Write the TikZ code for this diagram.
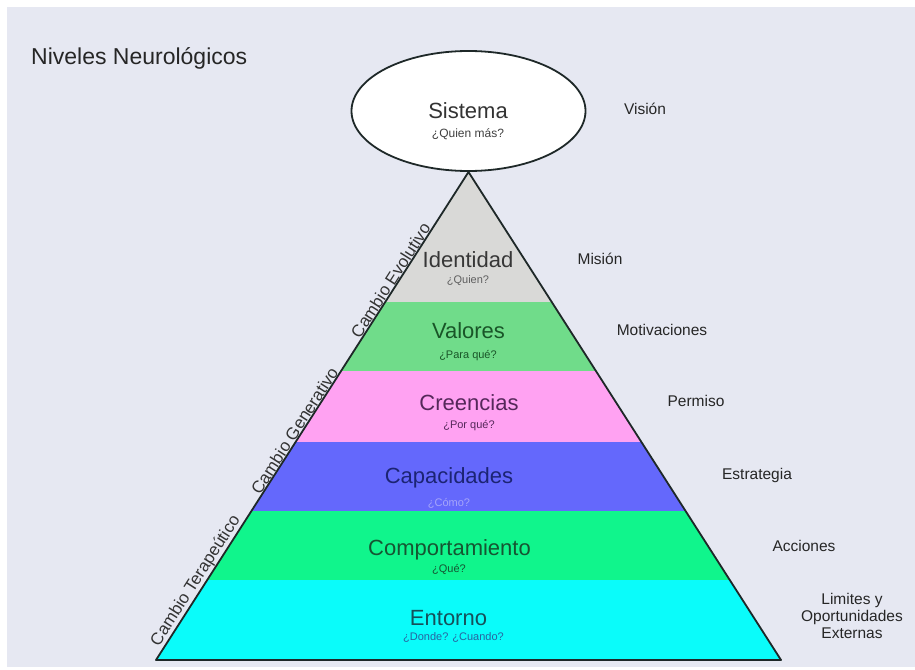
\documentclass[tikz,border=0pt]{standalone}
\usepackage{fontspec}
\setmainfont{Liberation Sans}
\usetikzlibrary{shapes.geometric}
\definecolor{bgc}{RGB}{230,232,242}
\definecolor{cIdent}{RGB}{217,217,215}
\definecolor{cVal}{RGB}{112,220,138}
\definecolor{cCre}{RGB}{255,162,242}
\definecolor{cCap}{RGB}{100,104,252}
\definecolor{cCom}{RGB}{16,245,140}
\definecolor{cEnt}{RGB}{10,252,250}
\definecolor{tIdent}{RGB}{55,55,55}
\definecolor{tVal}{RGB}{25,85,40}
\definecolor{tCre}{RGB}{85,40,90}
\definecolor{tCap}{RGB}{28,36,115}
\definecolor{sCap}{RGB}{165,165,250}
\definecolor{tCom}{RGB}{22,85,50}
\definecolor{tEnt}{RGB}{22,80,90}
\definecolor{sEnt}{RGB}{40,100,160}
\definecolor{outl}{RGB}{30,40,40}
\tikzset{
  outline/.style={draw=outl, line width=1.8pt, line join=round},
  title/.style={font=\fontsize{22}{24}\selectfont, inner sep=0pt, anchor=base},
  subt/.style={font=\fontsize{11}{13}\selectfont, inner sep=0pt, anchor=base},
  rlab/.style={font=\fontsize{15.5}{17}\selectfont, inner sep=0pt, anchor=base, text=black!85},
  sidelab/.style={font=\fontsize{17}{19}\selectfont, inner sep=0.8pt, text=black!80},
  heading/.style={font=\fontsize{23}{25}\selectfont, inner sep=0pt, anchor=base west, text=black!85}
}
\begin{document}
\begin{tikzpicture}[x=1pt,y=-1pt]
\useasboundingbox (0,0) rectangle (915,669);
\fill[white] (0,0) rectangle (915,669);
\fill[bgc] (7,7) rectangle (915,667);

\coordinate (A) at (468.5,172);
\coordinate (BL) at (156,660);
\coordinate (BR) at (781,660);

\begin{scope}
  \clip (A) -- (BL) -- (BR) -- cycle;
  \fill[cIdent] (100,160) rectangle (850,302);
  \fill[cVal] (100,302) rectangle (850,371);
  \fill[cCre] (100,371) rectangle (850,442);
  \fill[cCap] (100,442) rectangle (850,511);
  \fill[cCom] (100,511) rectangle (850,580);
  \fill[cEnt] (100,580) rectangle (850,665);
\end{scope}
\draw[outline] (A) -- (BL) -- (BR) -- cycle;

\node[ellipse, draw=outl, line width=1.8pt, fill=white, minimum width=234pt, minimum height=120pt, inner sep=0pt] (sis) at (468.5,111) {};

\node[heading] (head) at (31,65) {Niveles Neurológicos};

\node[title, text=black!80] (tS) at (468,118) {Sistema};
\node[subt, text=black!75, font=\fontsize{12}{14}\selectfont] (sS) at (468,137) {¿Quien más?};

\node[title, text=tIdent] (tI) at (468,267) {Identidad};
\node[subt, text=tIdent!80] (sI) at (468,283) {¿Quien?};

\node[title, text=tVal] (tV) at (468.5,338) {Valores};
\node[subt, text=tVal] (sV) at (468,358) {¿Para qué?};

\node[title, text=tCre] (tC) at (469,410) {Creencias};
\node[subt, text=tCre] (sC) at (469,428) {¿Por qué?};

\node[title, text=tCap] (tCa) at (449,483) {Capacidades};
\node[subt, text=sCap] (sCa) at (449,506) {¿Cómo?};

\node[title, text=tCom] (tCo) at (449.5,555) {Comportamiento};
\node[subt, text=tCom] (sCo) at (449,572) {¿Qué?};

\node[title, text=tEnt] (tE) at (448.5,625) {Entorno};
\node[subt, text=sEnt] (sE) at (453.5,640) {¿Donde? ¿Cuando?};

\node[rlab] (rV) at (645,114.5) {Visión};
\node[rlab] (rMi) at (600,264) {Misión};
\node[rlab] (rMo) at (662,335.5) {Motivaciones};
\node[rlab] (rP) at (696,406.5) {Permiso};
\node[rlab] (rE) at (757,479.5) {Estrategia};
\node[rlab] (rA) at (804,551.5) {Acciones};
\node[rlab, anchor=center, align=center] (rL) at (852,616) {Limites y\\Oportunidades\\Externas};

\path (BL) -- (A)
  node[pos=0.152, sloped, above, sidelab] (cT) {Cambio Terapeútico}
  node[pos=0.4625, sloped, above, sidelab] (cG) {Cambio Generativo}
  node[pos=0.77, sloped, above, sidelab] (cE) {Cambio Evolutivo};
\end{tikzpicture}
\end{document}
